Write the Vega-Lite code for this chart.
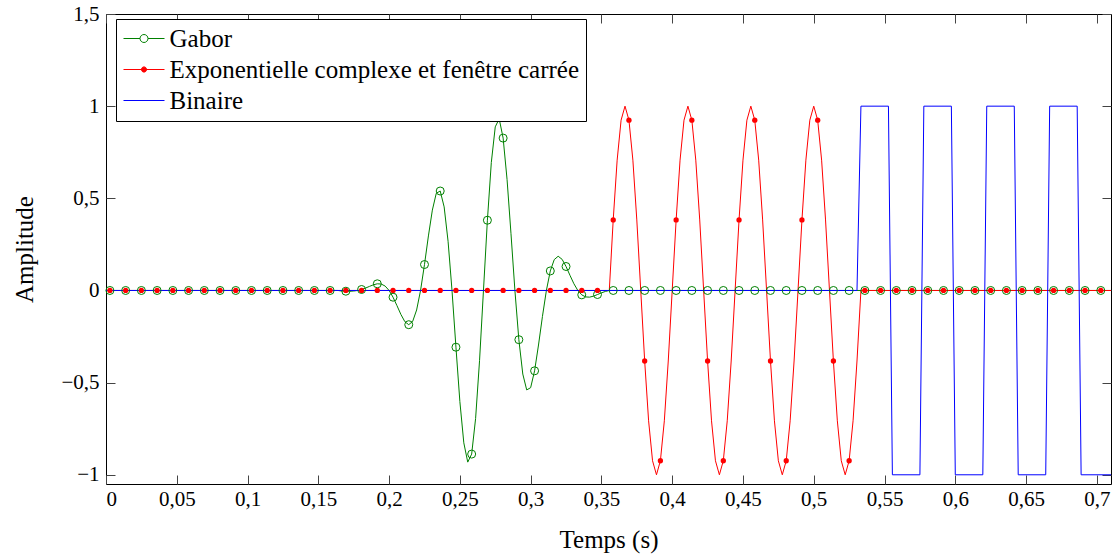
{
  "$schema": "https://vega.github.io/schema/vega-lite/v6.json",
  "width": 1005,
  "height": 470,
  "autosize": {"type": "none"},
  "padding": {"left": 106, "top": 14, "right": 7, "bottom": 73},
  "background": "white",
  "config": {
    "locale": {"number": {"decimal": ",", "thousands": " ", "grouping": [3], "currency": ["", " €"], "minus": "−"}},
    "font": "Liberation Serif",
    "view": {"stroke": "black", "strokeWidth": 1},
    "axis": {
      "labelFont": "Liberation Serif", "titleFont": "Liberation Serif",
      "labelFontSize": 21, "titleFontSize": 25, "titleFontWeight": "normal",
      "labelColor": "black", "titleColor": "black",
      "grid": false, "domain": false,
      "tickColor": "#444444", "tickWidth": 1, "tickSize": -9
    }
  },
  "datasets": {
    "courbes": [
      {"s":"g","t":0,"v":0},{"s":"g","t":0.163889,"v":0},
      {"s":"g","t":0.166667,"v":-0.0032},{"s":"g","t":0.169444,"v":-0.0040},{"s":"g","t":0.172222,"v":-0.0042},{"s":"g","t":0.175,"v":-0.0030},
      {"s":"g","t":0.177778,"v":0},{"s":"g","t":0.180556,"v":0.0053},{"s":"g","t":0.183333,"v":0.0130},{"s":"g","t":0.186111,"v":0.0220},
      {"s":"g","t":0.188889,"v":0.0307},{"s":"g","t":0.191667,"v":0.0362},{"s":"g","t":0.194444,"v":0.0350},{"s":"g","t":0.197222,"v":0.0238},
      {"s":"g","t":0.2,"v":0},{"s":"g","t":0.202778,"v":-0.0365},{"s":"g","t":0.205556,"v":-0.0823},{"s":"g","t":0.208333,"v":-0.1301},
      {"s":"g","t":0.211111,"v":-0.1690},{"s":"g","t":0.213889,"v":-0.1857},{"s":"g","t":0.216667,"v":-0.1675},{"s":"g","t":0.219444,"v":-0.1059},
      {"s":"g","t":0.222222,"v":0},{"s":"g","t":0.225,"v":0.1408},{"s":"g","t":0.227778,"v":0.2959},{"s":"g","t":0.230556,"v":0.4359},
      {"s":"g","t":0.233333,"v":0.5273},{"s":"g","t":0.236111,"v":0.5396},{"s":"g","t":0.238889,"v":0.4534},{"s":"g","t":0.241667,"v":0.2670},
      {"s":"g","t":0.244444,"v":0},{"s":"g","t":0.247222,"v":-0.3078},{"s":"g","t":0.25,"v":-0.6026},{"s":"g","t":0.252778,"v":-0.8267},
      {"s":"g","t":0.255556,"v":-0.9314},{"s":"g","t":0.258333,"v":-0.8877},{"s":"g","t":0.261111,"v":-0.6947},{"s":"g","t":0.263889,"v":-0.3810},
      {"s":"g","t":0.266667,"v":0},{"s":"g","t":0.269444,"v":0.3810},{"s":"g","t":0.272222,"v":0.6947},{"s":"g","t":0.275,"v":0.8877},
      {"s":"g","t":0.277778,"v":0.9314},{"s":"g","t":0.280556,"v":0.8267},{"s":"g","t":0.283333,"v":0.6026},{"s":"g","t":0.286111,"v":0.3078},
      {"s":"g","t":0.288889,"v":0},{"s":"g","t":0.291667,"v":-0.2670},{"s":"g","t":0.294444,"v":-0.4534},{"s":"g","t":0.297222,"v":-0.5396},
      {"s":"g","t":0.3,"v":-0.5273},{"s":"g","t":0.302778,"v":-0.4359},{"s":"g","t":0.305556,"v":-0.2959},{"s":"g","t":0.308333,"v":-0.1408},
      {"s":"g","t":0.311111,"v":0},{"s":"g","t":0.313889,"v":0.1059},{"s":"g","t":0.316667,"v":0.1675},{"s":"g","t":0.319444,"v":0.1857},
      {"s":"g","t":0.322222,"v":0.1690},{"s":"g","t":0.325,"v":0.1301},{"s":"g","t":0.327778,"v":0.0823},{"s":"g","t":0.330556,"v":0.0365},
      {"s":"g","t":0.333333,"v":0},{"s":"g","t":0.336111,"v":-0.0238},{"s":"g","t":0.338889,"v":-0.0350},{"s":"g","t":0.341667,"v":-0.0362},
      {"s":"g","t":0.344444,"v":-0.0307},{"s":"g","t":0.347222,"v":-0.0220},{"s":"g","t":0.35,"v":-0.0130},{"s":"g","t":0.352778,"v":-0.0053},
      {"s":"g","t":0.355556,"v":0},{"s":"g","t":0.711111,"v":0},

      {"s":"e","t":0,"v":0},{"s":"e","t":0.355556,"v":0},
      {"s":"e","t":0.358333,"v":0.3827},{"s":"e","t":0.361111,"v":0.7071},{"s":"e","t":0.363889,"v":0.9239},{"s":"e","t":0.366667,"v":1},
      {"s":"e","t":0.369444,"v":0.9239},{"s":"e","t":0.372222,"v":0.7071},{"s":"e","t":0.375,"v":0.3827},{"s":"e","t":0.377778,"v":0},
      {"s":"e","t":0.380556,"v":-0.3827},{"s":"e","t":0.383333,"v":-0.7071},{"s":"e","t":0.386111,"v":-0.9239},{"s":"e","t":0.388889,"v":-1},
      {"s":"e","t":0.391667,"v":-0.9239},{"s":"e","t":0.394444,"v":-0.7071},{"s":"e","t":0.397222,"v":-0.3827},{"s":"e","t":0.4,"v":0},
      {"s":"e","t":0.402778,"v":0.3827},{"s":"e","t":0.405556,"v":0.7071},{"s":"e","t":0.408333,"v":0.9239},{"s":"e","t":0.411111,"v":1},
      {"s":"e","t":0.413889,"v":0.9239},{"s":"e","t":0.416667,"v":0.7071},{"s":"e","t":0.419444,"v":0.3827},{"s":"e","t":0.422222,"v":0},
      {"s":"e","t":0.425,"v":-0.3827},{"s":"e","t":0.427778,"v":-0.7071},{"s":"e","t":0.430556,"v":-0.9239},{"s":"e","t":0.433333,"v":-1},
      {"s":"e","t":0.436111,"v":-0.9239},{"s":"e","t":0.438889,"v":-0.7071},{"s":"e","t":0.441667,"v":-0.3827},{"s":"e","t":0.444444,"v":0},
      {"s":"e","t":0.447222,"v":0.3827},{"s":"e","t":0.45,"v":0.7071},{"s":"e","t":0.452778,"v":0.9239},{"s":"e","t":0.455556,"v":1},
      {"s":"e","t":0.458333,"v":0.9239},{"s":"e","t":0.461111,"v":0.7071},{"s":"e","t":0.463889,"v":0.3827},{"s":"e","t":0.466667,"v":0},
      {"s":"e","t":0.469444,"v":-0.3827},{"s":"e","t":0.472222,"v":-0.7071},{"s":"e","t":0.475,"v":-0.9239},{"s":"e","t":0.477778,"v":-1},
      {"s":"e","t":0.480556,"v":-0.9239},{"s":"e","t":0.483333,"v":-0.7071},{"s":"e","t":0.486111,"v":-0.3827},{"s":"e","t":0.488889,"v":0},
      {"s":"e","t":0.491667,"v":0.3827},{"s":"e","t":0.494444,"v":0.7071},{"s":"e","t":0.497222,"v":0.9239},{"s":"e","t":0.5,"v":1},
      {"s":"e","t":0.502778,"v":0.9239},{"s":"e","t":0.505556,"v":0.7071},{"s":"e","t":0.508333,"v":0.3827},{"s":"e","t":0.511111,"v":0},
      {"s":"e","t":0.513889,"v":-0.3827},{"s":"e","t":0.516667,"v":-0.7071},{"s":"e","t":0.519444,"v":-0.9239},{"s":"e","t":0.522222,"v":-1},
      {"s":"e","t":0.525,"v":-0.9239},{"s":"e","t":0.527778,"v":-0.7071},{"s":"e","t":0.530556,"v":-0.3827},{"s":"e","t":0.533333,"v":0},
      {"s":"e","t":0.711111,"v":0},

      {"s":"b","t":0,"v":0},{"s":"b","t":0.530556,"v":0},
      {"s":"b","t":0.533333,"v":1},{"s":"b","t":0.552778,"v":1},{"s":"b","t":0.555556,"v":-1},{"s":"b","t":0.575,"v":-1},
      {"s":"b","t":0.577778,"v":1},{"s":"b","t":0.597222,"v":1},{"s":"b","t":0.6,"v":-1},{"s":"b","t":0.619444,"v":-1},
      {"s":"b","t":0.622222,"v":1},{"s":"b","t":0.641667,"v":1},{"s":"b","t":0.644444,"v":-1},{"s":"b","t":0.663889,"v":-1},
      {"s":"b","t":0.666667,"v":1},{"s":"b","t":0.686111,"v":1},{"s":"b","t":0.688889,"v":-1},{"s":"b","t":0.711111,"v":-1}
    ],
    "marqueurs": [
      {"t":0.002778,"g":0,"e":0},{"t":0.013889,"g":0,"e":0},{"t":0.025,"g":0,"e":0},{"t":0.036111,"g":0,"e":0},
      {"t":0.047222,"g":0,"e":0},{"t":0.058333,"g":0,"e":0},{"t":0.069444,"g":0,"e":0},{"t":0.080556,"g":0,"e":0},
      {"t":0.091667,"g":0,"e":0},{"t":0.102778,"g":0,"e":0},{"t":0.113889,"g":0,"e":0},{"t":0.125,"g":0,"e":0},
      {"t":0.136111,"g":0,"e":0},{"t":0.147222,"g":0,"e":0},{"t":0.158333,"g":0,"e":0},{"t":0.169444,"g":-0.0040,"e":0},
      {"t":0.180556,"g":0.0053,"e":0},{"t":0.191667,"g":0.0362,"e":0},{"t":0.202778,"g":-0.0365,"e":0},{"t":0.213889,"g":-0.1857,"e":0},
      {"t":0.225,"g":0.1408,"e":0},{"t":0.236111,"g":0.5396,"e":0},{"t":0.247222,"g":-0.3078,"e":0},{"t":0.258333,"g":-0.8877,"e":0},
      {"t":0.269444,"g":0.3810,"e":0},{"t":0.280556,"g":0.8267,"e":0},{"t":0.291667,"g":-0.2670,"e":0},{"t":0.302778,"g":-0.4359,"e":0},
      {"t":0.313889,"g":0.1059,"e":0},{"t":0.325,"g":0.1301,"e":0},{"t":0.336111,"g":-0.0238,"e":0},{"t":0.347222,"g":-0.0220,"e":0},
      {"t":0.358333,"g":0,"e":0.3827},{"t":0.369444,"g":0,"e":0.9239},{"t":0.380556,"g":0,"e":-0.3827},{"t":0.391667,"g":0,"e":-0.9239},
      {"t":0.402778,"g":0,"e":0.3827},{"t":0.413889,"g":0,"e":0.9239},{"t":0.425,"g":0,"e":-0.3827},{"t":0.436111,"g":0,"e":-0.9239},
      {"t":0.447222,"g":0,"e":0.3827},{"t":0.458333,"g":0,"e":0.9239},{"t":0.469444,"g":0,"e":-0.3827},{"t":0.480556,"g":0,"e":-0.9239},
      {"t":0.491667,"g":0,"e":0.3827},{"t":0.502778,"g":0,"e":0.9239},{"t":0.513889,"g":0,"e":-0.3827},{"t":0.525,"g":0,"e":-0.9239},
      {"t":0.536111,"g":0,"e":0},{"t":0.547222,"g":0,"e":0},{"t":0.558333,"g":0,"e":0},{"t":0.569444,"g":0,"e":0},
      {"t":0.580556,"g":0,"e":0},{"t":0.591667,"g":0,"e":0},{"t":0.602778,"g":0,"e":0},{"t":0.613889,"g":0,"e":0},
      {"t":0.625,"g":0,"e":0},{"t":0.636111,"g":0,"e":0},{"t":0.647222,"g":0,"e":0},{"t":0.658333,"g":0,"e":0},
      {"t":0.669444,"g":0,"e":0},{"t":0.680556,"g":0,"e":0},{"t":0.691667,"g":0,"e":0},{"t":0.702778,"g":0,"e":0}
    ]
  },
  "layer": [
    {
      "data": {"name": "courbes"},
      "mark": {"type": "line", "strokeWidth": 1, "clip": true},
      "encoding": {
        "x": {"field": "t", "type": "quantitative",
              "scale": {"domain": [0, 0.71], "nice": false, "zero": false},
              "axis": {"values": [0,0.05,0.1,0.15,0.2,0.25,0.3,0.35,0.4,0.45,0.5,0.55,0.6,0.65,0.7],
                       "format": ".2~f", "title": "Temps (s)", "labelPadding": 13, "titlePadding": 18}},
        "y": {"field": "v", "type": "quantitative",
              "scale": {"domain": [-1.05, 1.5], "nice": false, "zero": false},
              "axis": {"values": [-1,-0.5,0,0.5,1,1.5], "format": ".1~f", "title": "Amplitude",
                       "labelPadding": 16, "titlePadding": 23}},
        "color": {"field": "s", "type": "nominal",
                  "scale": {"domain": ["g","e","b"], "range": ["#008000","#ff0000","#0000ff"]},
                  "legend": {
                    "orient": "none", "legendX": 10, "legendY": 5, "title": null, "direction": "vertical",
                    "labelExpr": "datum.value == 'g' ? 'Gabor' : datum.value == 'e' ? 'Exponentielle complexe et fenêtre carrée' : 'Binaire'",
                    "labelFont": "Liberation Serif", "labelFontSize": 25, "labelColor": "black", "labelLimit": 1000,
                    "labelOffset": 21.5, "symbolSize": 576, "symbolStrokeWidth": 1, "symbolOffset": 0,
                    "rowPadding": 5, "padding": 7, "strokeColor": "black", "fillColor": "white", "cornerRadius": 0,
                    "encode": {"symbols": {"update": {
                      "shape": {"signal": "datum.value == 'g' ? 'M-1,0H0.375M1.041,0H2.417M1.041,0A0.333,0.333,0,1,1,0.375,0A0.333,0.333,0,1,1,1.041,0' : datum.value == 'e' ? 'M-1,0H2.417M0.925,0A0.217,0.217,0,1,1,0.491,0A0.217,0.217,0,1,1,0.925,0' : 'M-1,0H2.417'"},
                      "fill": {"signal": "datum.value == 'e' ? '#ff0000' : 'transparent'"},
                      "stroke": {"signal": "datum.value == 'g' ? '#008000' : datum.value == 'e' ? '#ff0000' : '#0000ff'"},
                      "strokeWidth": {"value": 1},
                      "size": {"value": 576},
                      "opacity": {"value": 1}
                    }}}
                  }}
      }
    },
    {
      "data": {"name": "marqueurs"},
      "mark": {"type": "point", "shape": "circle", "filled": false, "color": "#008000", "size": 64, "strokeWidth": 1, "opacity": 1},
      "encoding": {
        "x": {"field": "t", "type": "quantitative", "scale": {"domain": [0, 0.71], "nice": false, "zero": false},
              "axis": {"orient": "top", "values": [0,0.05,0.1,0.15,0.2,0.25,0.3,0.35,0.4,0.45,0.5,0.55,0.6,0.65,0.7], "labels": false, "title": null}},
        "y": {"field": "g", "type": "quantitative", "scale": {"domain": [-1.05, 1.5], "nice": false, "zero": false},
              "axis": {"orient": "right", "values": [-1,-0.5,0,0.5,1,1.5], "labels": false, "title": null}}
      }
    },
    {
      "data": {"name": "marqueurs"},
      "mark": {"type": "point", "shape": "circle", "filled": true, "color": "#ff0000", "size": 28, "opacity": 1},
      "encoding": {
        "x": {"field": "t", "type": "quantitative", "scale": {"domain": [0, 0.71], "nice": false, "zero": false}, "axis": null},
        "y": {"field": "e", "type": "quantitative", "scale": {"domain": [-1.05, 1.5], "nice": false, "zero": false}, "axis": null}
      }
    }
  ],
  "resolve": {"axis": {"x": "independent", "y": "independent"}}
}
